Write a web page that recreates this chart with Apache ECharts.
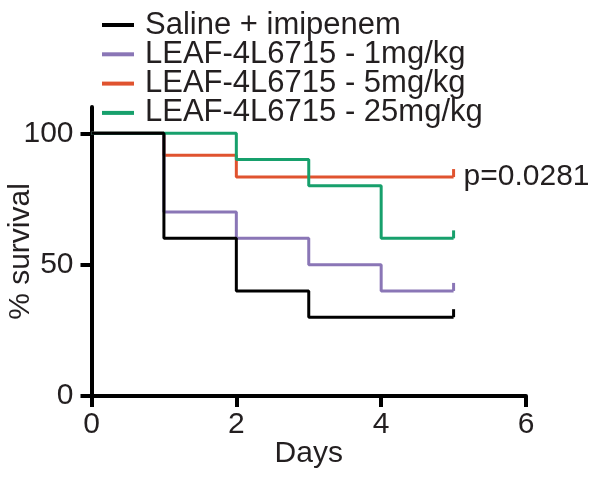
<!DOCTYPE html>
<html>
<head>
<meta charset="utf-8">
<script src="https://cdn.jsdelivr.net/npm/echarts@6/dist/echarts.min.js"></script>
<style>html,body{margin:0;padding:0;background:#fff}#c{width:601px;height:479px}</style>
</head>
<body>
<div id="c"></div>
<script>
const seriesNames = ['Saline + imipenem', 'LEAF-4L6715 - 1mg/kg', 'LEAF-4L6715 - 5mg/kg', 'LEAF-4L6715 - 25mg/kg'];
const salineDays = [0, 1, 2, 3, 5];
const salineSurv = [100, 60, 40, 30, 30];
const dose1Days = [0, 1, 2, 3, 4, 5];
const dose1Surv = [100, 70, 60, 50, 40, 40];
const dose5Days = [0, 1, 2, 5];
const dose5Surv = [100, 91.67, 83.33, 83.33];
const dose25Days = [0, 2, 3, 4, 5];
const dose25Surv = [100, 90, 80, 60, 60];
const xTicks = [0, 2, 4, 6];
const yTicks = [0, 50, 100];
const pValueText = 'p=0.0281';

const colors = ['#000000', '#8a76b6', '#e0532f', '#17a06c'];
const font = 'Liberation Sans, Arial, Helvetica, sans-serif';
const txt = '#231f20';

function mk(days, surv) {
  return days.map((d, i) => {
    if (i === days.length - 1) {
      return { value: [d, surv[i]], symbol: 'rect', symbolSize: [3, 8], symbolOffset: [0, -4] };
    }
    return { value: [d, surv[i]], symbol: 'none' };
  });
}
const dataSets = [mk(salineDays, salineSurv), mk(dose1Days, dose1Surv), mk(dose5Days, dose5Surv), mk(dose25Days, dose25Surv)];
const zs = [5, 3, 2, 4];

const series = seriesNames.map((n, i) => ({
  name: n,
  type: 'line',
  step: 'end',
  data: dataSets[i],
  showSymbol: true,
  symbol: 'none',
  itemStyle: { color: colors[i] },
  lineStyle: { color: colors[i], width: 3 },
  z: zs[i],
  animation: false,
  endLabel: i === 2 ? {
    show: true, formatter: pValueText, distance: 10,
    fontFamily: font, fontSize: 30, color: txt
  } : { show: false }
}));

const chart = echarts.init(document.getElementById('c'), null, { renderer: 'canvas' });
chart.setOption({
  backgroundColor: '#fff',
  animation: false,
  grid: { left: 91.5, right: 75, top: 107, bottom: 83, containLabel: false, outerBoundsMode: 'none' },
  legend: {
    orient: 'vertical', left: 102, top: 9.5, padding: 0,
    data: seriesNames,
    icon: 'rect', itemWidth: 32, itemHeight: 4, itemGap: -1.7,
    textStyle: { fontFamily: font, fontSize: 31, color: txt, padding: [0, 0, 0, 6] },
    selectedMode: false
  },
  xAxis: {
    type: 'value', min: xTicks[0], max: xTicks[xTicks.length - 1], interval: 2,
    name: 'Days', nameLocation: 'middle', nameGap: 43, nameMoveOverlap: false,
    nameTextStyle: { fontFamily: font, fontSize: 30, color: txt },
    axisLine: { show: true, onZero: false, lineStyle: { color: '#000', width: 4 } },
    axisTick: { show: true, inside: false, length: 11, lineStyle: { color: '#000', width: 4 } },
    axisLabel: { fontFamily: font, fontSize: 30, color: txt, margin: 14 },
    splitLine: { show: false }
  },
  yAxis: {
    type: 'value', min: 0, max: 110,
    name: '% survival', nameLocation: 'middle', nameGap: 56, nameRotate: 90, nameMoveOverlap: false,
    nameTextStyle: { fontFamily: font, fontSize: 30, color: txt },
    axisLine: { show: true, onZero: false, lineStyle: { color: '#000', width: 4 } },
    axisTick: { show: true, inside: false, length: 11, customValues: yTicks, lineStyle: { color: '#000', width: 4 } },
    axisLabel: { fontFamily: font, fontSize: 30, color: txt, margin: 18, customValues: yTicks },
    splitLine: { show: false }
  },
  series: series
});
</script>
</body>
</html>
